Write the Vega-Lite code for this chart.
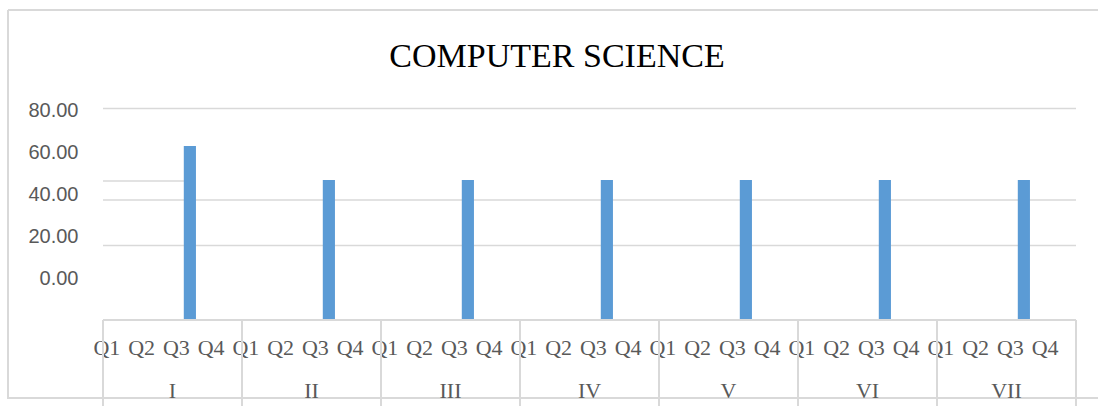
{
  "$schema": "https://vega.github.io/schema/vega-lite/v6.json",
  "width": 1090,
  "height": 388,
  "autosize": {"type": "none"},
  "padding": {"left": 8, "top": 10, "right": 0, "bottom": 8},
  "background": "white",
  "title": {"text": "COMPUTER SCIENCE", "font": "Liberation Serif", "fontSize": 34, "fontWeight": "normal", "color": "#000000", "anchor": "middle", "frame": "group", "orient": "top", "baseline": "alphabetic", "offset": -91, "dx": 4},
  "config": {"view": {"stroke": "#d9d9d9", "strokeWidth": 2, "strokeDash": [1090, 388, 1478, 0]}},
  "datasets": {
    "scores": [
      {"group": "I", "quarter": "Q1", "key": "I Q1", "score": null},
      {"group": "I", "quarter": "Q2", "key": "I Q2", "score": null},
      {"group": "I", "quarter": "Q3", "key": "I Q3", "score": 63.2},
      {"group": "I", "quarter": "Q4", "key": "I Q4", "score": null},
      {"group": "II", "quarter": "Q1", "key": "II Q1", "score": null},
      {"group": "II", "quarter": "Q2", "key": "II Q2", "score": null},
      {"group": "II", "quarter": "Q3", "key": "II Q3", "score": 46.9},
      {"group": "II", "quarter": "Q4", "key": "II Q4", "score": null},
      {"group": "III", "quarter": "Q1", "key": "III Q1", "score": null},
      {"group": "III", "quarter": "Q2", "key": "III Q2", "score": null},
      {"group": "III", "quarter": "Q3", "key": "III Q3", "score": 46.9},
      {"group": "III", "quarter": "Q4", "key": "III Q4", "score": null},
      {"group": "IV", "quarter": "Q1", "key": "IV Q1", "score": null},
      {"group": "IV", "quarter": "Q2", "key": "IV Q2", "score": null},
      {"group": "IV", "quarter": "Q3", "key": "IV Q3", "score": 46.9},
      {"group": "IV", "quarter": "Q4", "key": "IV Q4", "score": null},
      {"group": "V", "quarter": "Q1", "key": "V Q1", "score": null},
      {"group": "V", "quarter": "Q2", "key": "V Q2", "score": null},
      {"group": "V", "quarter": "Q3", "key": "V Q3", "score": 46.9},
      {"group": "V", "quarter": "Q4", "key": "V Q4", "score": null},
      {"group": "VI", "quarter": "Q1", "key": "VI Q1", "score": null},
      {"group": "VI", "quarter": "Q2", "key": "VI Q2", "score": null},
      {"group": "VI", "quarter": "Q3", "key": "VI Q3", "score": 46.9},
      {"group": "VI", "quarter": "Q4", "key": "VI Q4", "score": null},
      {"group": "VII", "quarter": "Q1", "key": "VII Q1", "score": null},
      {"group": "VII", "quarter": "Q2", "key": "VII Q2", "score": null},
      {"group": "VII", "quarter": "Q3", "key": "VII Q3", "score": 46.9},
      {"group": "VII", "quarter": "Q4", "key": "VII Q4", "score": null}
    ],
    "gridlines": [{"level": 81.1}, {"level": 37.4}, {"level": 15.6}]
  },
  "layer": [
    {
      "data": {"name": "gridlines"},
      "mark": {"type": "rule", "color": "#d9d9d9", "strokeWidth": 1.5},
      "encoding": {
        "y": {"field": "level", "type": "quantitative"},
        "x": {"datum": "I Q1", "type": "nominal", "bandPosition": 0},
        "x2": {"datum": "VII Q4", "bandPosition": 1}
      }
    },
    {
      "data": {"values": [{"level": 46.4}]},
      "mark": {"type": "rule", "color": "#d9d9d9", "strokeWidth": 1.5},
      "encoding": {
        "y": {"field": "level", "type": "quantitative"},
        "x": {"datum": "I Q1", "type": "nominal", "bandPosition": 0},
        "x2": {"datum": "I Q3", "bandPosition": 0.33}
      }
    },
    {
      "data": {"name": "scores"},
      "mark": {"type": "bar", "color": "#5b9bd5", "width": {"band": 0.35}},
      "encoding": {
        "x": {
          "field": "key", "type": "nominal",
          "scale": {"domain": ["I Q1","I Q2","I Q3","I Q4","II Q1","II Q2","II Q3","II Q4","III Q1","III Q2","III Q3","III Q4","IV Q1","IV Q2","IV Q3","IV Q4","V Q1","V Q2","V Q3","V Q4","VI Q1","VI Q2","VI Q3","VI Q4","VII Q1","VII Q2","VII Q3","VII Q4"], "range": [95, 1068], "paddingInner": 0, "paddingOuter": 0},
          "axis": {"title": null, "orient": "bottom", "offset": -78, "domain": false, "ticks": false, "grid": false, "labelAngle": 0, "labelPadding": 27, "labelExpr": "split(datum.label, ' ')[1]", "labelFont": "Liberation Serif", "labelFontSize": 22, "labelColor": "#595959"}
        },
        "y": {
          "field": "score", "type": "quantitative",
          "scale": {"domain": [-57.14, 128.07], "nice": false, "zero": false},
          "axis": {"title": null, "orient": "left", "offset": -70, "domain": false, "ticks": false, "grid": false, "values": [0, 20, 40, 60, 80], "format": ".2f", "labelPadding": 0, "labelFont": "Liberation Sans", "labelFontSize": 20, "labelColor": "#595959"}
        },
        "y2": {"datum": -19.9}
      }
    },
    {
      "data": {"values": [{"level": -19.9}]},
      "mark": {"type": "rule", "color": "#d9d9d9", "strokeWidth": 2},
      "encoding": {
        "y": {"field": "level", "type": "quantitative"},
        "x": {"datum": "I Q1", "type": "nominal", "bandPosition": 0},
        "x2": {"datum": "VII Q4", "bandPosition": 1}
      }
    },
    {
      "data": {"name": "scores"},
      "transform": [{"filter": "datum.quarter == 'Q1'"}],
      "mark": {"type": "rule", "color": "#d9d9d9", "strokeWidth": 2},
      "encoding": {
        "x": {"field": "key", "type": "nominal", "bandPosition": 0},
        "y": {"datum": -19.9},
        "y2": {"datum": -62}
      }
    },
    {
      "data": {"values": [{"edge": "VII Q4"}]},
      "mark": {"type": "rule", "color": "#d9d9d9", "strokeWidth": 2},
      "encoding": {
        "x": {"field": "edge", "type": "nominal", "bandPosition": 1},
        "y": {"datum": -19.9},
        "y2": {"datum": -62}
      }
    },
    {
      "data": {"name": "scores"},
      "transform": [{"filter": "datum.quarter == 'Q3'"}],
      "mark": {"type": "text", "font": "Liberation Serif", "fontSize": 22, "color": "#595959", "baseline": "middle", "align": "center"},
      "encoding": {
        "x": {"field": "key", "type": "nominal", "bandPosition": 0},
        "y": {"datum": -53.8},
        "text": {"field": "group"}
      }
    }
  ]
}
